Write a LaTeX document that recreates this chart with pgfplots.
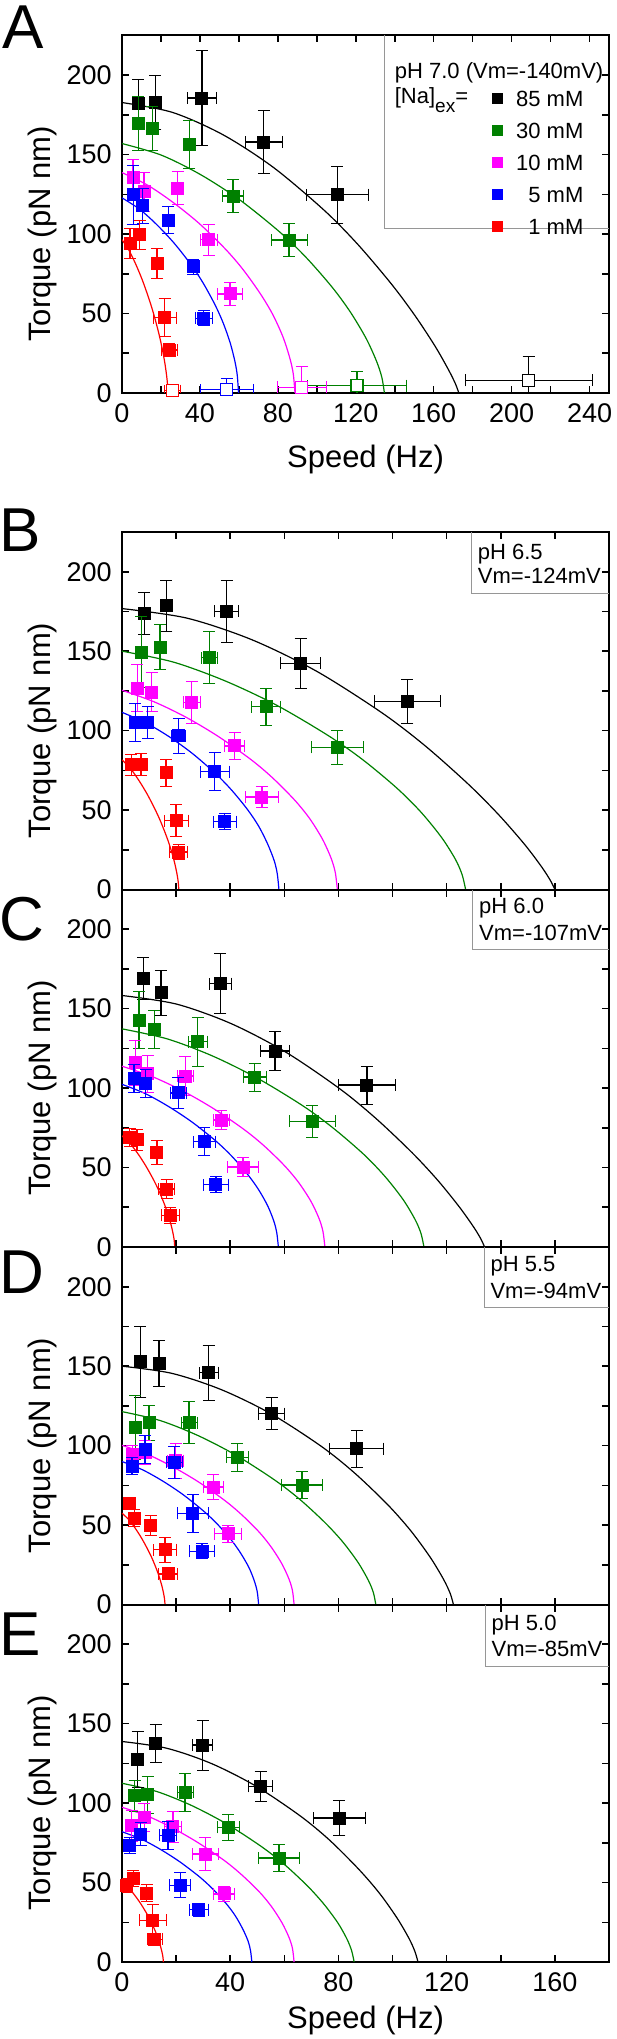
\documentclass[border=0pt]{standalone}
\usepackage{fontspec}
\setmainfont{Liberation Sans}
\usepackage{pgfplots}
\pgfplotsset{compat=1.18}
\definecolor{cgreen}{RGB}{0,128,0}
\definecolor{cmag}{RGB}{255,0,255}
\definecolor{cblue}{RGB}{0,0,255}
\definecolor{cred}{RGB}{255,0,0}
\definecolor{boxgray}{RGB}{150,150,150}
\newcommand{\boxfont}{\fontsize{11}{13}\selectfont}
\pgfplotsset{
 panel/.style={width=243.5pt, height=178.75pt, scale only axis, xmin=0, ymin=0, ymax=225,
   ytick={0,50,...,200}, minor y tick num=1, minor x tick num=1,
   tick align=inside, major tick length=3.5pt, minor tick length=3.5pt,
   axis line style={line width=1pt}, tick style={black, line width=0.8pt},
   tick label style={font=\fontsize{13.5}{15}\selectfont},
   /pgf/number format/assume math mode=true,
   yticklabel style={inner sep=0pt, xshift=-5pt},
   xticklabel style={inner sep=0pt, yshift=-5pt},
   label style={font=\fontsize{15.5}{18}\selectfont},
   ylabel={Torque (pN nm)},
   ylabel style={at={(axis description cs:-0.1478,0.445)}, anchor=base, inner sep=0pt},
   clip mode=individual},
 dat/.style={forget plot, only marks, mark=square*, mark size=3pt, color=#1,
   mark options={solid, fill=#1, draw=#1, line width=0.4pt},
   error bars/.cd, x dir=both, x explicit, y dir=both, y explicit,
   error bar style={line width=0.65pt, color=#1}},
 odat/.style={forget plot, only marks, mark=square*, mark size=3pt, color=#1,
   mark options={solid, fill=white, draw=#1, line width=0.6pt},
   error bars/.cd, x dir=both, x explicit, y dir=both, y explicit,
   error bar style={line width=0.65pt, color=#1}},
 fitc/.style={forget plot, color=#1, line width=0.6pt, smooth, no marks},
}
\newcommand{\pts}[3][dat]{\addplot[#1=#2] table[x error=ex, y error=ey, row sep=\\]{x y ex ey\\#3};}
\newcommand{\fc}[2]{\addplot[fitc=#1] coordinates {#2};}
\newcommand{\lent}[2]{\raisebox{0pt}[10.5pt][#1]{#2}}
\begin{document}
\begin{tikzpicture}
% ---------------- A ----------------
\begin{axis}[panel, at={(0,0)}, anchor=south west, xmax=250, xtick={0,40,...,240},
  xlabel={Speed (Hz)}, xlabel style={at={(axis description cs:0.5,-0.208)}, anchor=base, inner sep=0pt},
  legend style={at={(axis description cs:0.9556,0.870)}, anchor=north east, draw=none, fill=none,
    inner sep=0pt, outer sep=0pt, row sep=0pt, column sep=4.9pt, font=\boxfont,
    cells={inner sep=0pt}},
  legend cell align=right]
\fc{black}{(0,182.8) (25.9,176.6) (51.9,162.5) (77.8,141.9) (103.7,115.1) (121.0,93.6) (138.3,68.6) (150.4,48.7) (160.8,29.3) (167.7,14.4) (171.2,5.7) (172.9,0)}
\fc{cgreen}{(0,157) (20.2,149.7) (40.4,137.4) (60.6,121.4) (80.8,101.5) (94.3,85.6) (107.8,66.7) (117.2,51.0) (125.3,34.4) (130.7,19.9) (133.4,9.8) (134.7,0)}
\fc{cmag}{(0,138.7) (13.3,130.7) (26.6,119.6) (40.0,106.3) (53.3,90.3) (62.2,77.6) (71.0,62.5) (77.3,49.6) (82.6,35.4) (86.1,22.2) (87.9,12.2) (88.8,0)}
\fc{cblue}{(0,122.8) (9.0,115.7) (17.9,105.9) (26.9,94.1) (35.9,80.0) (41.9,68.7) (47.8,55.4) (52.0,43.9) (55.6,31.3) (58.0,19.7) (59.2,10.8) (59.8,0)}
\fc{cred}{(0,96.5) (3.54,89.9) (7.08,81.0) (10.62,70.5) (14.16,58.1) (16.52,48.6) (18.88,37.6) (20.53,28.6) (21.95,19.2) (22.89,11.1) (23.36,5.5) (23.6,0)}
\pts{black}{8.4 182.4 1.5 15\\ 17.1 183.2 1.5 17\\ 41 185.7 7.3 30\\ 72.8 158 9.3 20\\ 110.6 124.8 16 18\\}
\pts[odat]{black}{208.8 8 32.7 15\\}
\pts{cgreen}{8.4 169.7 1.5 17\\ 15.5 166.6 1.5 14\\ 34.6 156.5 3 15\\ 57 124 5.5 10.5\\ 85.8 96.2 9.2 10.5\\}
\pts[odat]{cgreen}{120.6 4.6 25.6 9\\}
\pts{cmag}{5.6 136 1.5 11\\ 11.3 126.6 1.5 12.5\\ 28.6 129 1.5 10.3\\ 44.5 96.4 4.3 9.8\\ 55.5 62.4 6.5 7.1\\}
\pts[odat]{cmag}{92.3 3.6 12.4 13\\}
\pts{cblue}{5.8 124.8 1.5 18.5\\ 10.6 118 1.5 11\\ 23.8 108.9 1.5 8.4\\ 36.7 79.5 3 4.6\\ 42 47.1 4.5 4.8\\}
\pts[odat]{cblue}{53.8 2 13.6 7\\}
\pts{cred}{4.1 94.1 1.5 9.2\\ 9 99.6 1.5 9\\ 18 81.5 1.5 9.4\\ 21.9 47.5 5.8 12\\ 24.2 27 4 4.1\\}
\pts[odat]{cred}{25.9 1.5 4.2 3\\}
\addlegendimage{only marks, mark=square*, mark size=2.5pt, color=black}
\addlegendentry{\lent{7.5pt}{85 mM}}
\addlegendimage{only marks, mark=square*, mark size=2.5pt, color=cgreen}
\addlegendentry{\lent{3pt}{30 mM}}
\addlegendimage{only marks, mark=square*, mark size=2.5pt, color=cmag}
\addlegendentry{\lent{3pt}{10 mM}}
\addlegendimage{only marks, mark=square*, mark size=2.5pt, color=cblue}
\addlegendentry{\lent{3pt}{5 mM}}
\addlegendimage{only marks, mark=square*, mark size=2.5pt, color=cred}
\addlegendentry{\lent{3pt}{1 mM}}
\draw[boxgray, line width=0.5pt] (axis description cs:0.5394,1) |- (axis description cs:1,0.4615);
\node[anchor=base west, inner sep=0pt, font=\boxfont] at (axis description cs:0.5595,0.881) {pH 7.0 (Vm=-140mV)};
\node[anchor=base west, inner sep=0pt, font=\boxfont] at (axis description cs:0.5595,0.811) {[Na]\raisebox{-4.5pt}{\fontsize{9.5}{10}\selectfont ex}=};
\end{axis}
% ---------------- B ----------------
\begin{axis}[panel, at={(0,-248.25pt)}, anchor=south west, xmax=180, xtick={0,40,...,160}, xticklabels={}]
\fc{black}{(0,176.8) (24,170.8) (48,157.2) (72,137.3) (96,111.3) (112,90.5) (128,66.3) (139.2,47.1) (148.8,28.4) (155.2,14.0) (158.4,5.5) (160,0)}
\fc{cgreen}{(0,150) (19.05,143.1) (38.1,131.3) (57.15,116.0) (76.2,96.9) (88.9,81.8) (101.6,63.8) (110.5,48.7) (118.1,32.8) (123.2,19.1) (125.7,9.4) (127,0)}
\fc{cmag}{(0,125.4) (11.9,118.1) (23.9,108.2) (35.8,96.1) (47.8,81.6) (55.7,70.2) (63.7,56.5) (69.3,44.8) (74.0,32.0) (77.2,20.1) (78.8,11.0) (79.6,0)}
\fc{cblue}{(0,111.5) (8.7,105.0) (17.4,96.2) (26.1,85.5) (34.8,72.6) (40.6,62.4) (46.4,50.3) (50.5,39.9) (53.9,28.4) (56.3,17.9) (57.4,9.8) (58,0)}
\fc{cred}{(0,81.6) (3.15,76.1) (6.3,68.5) (9.45,59.6) (12.6,49.1) (14.7,41.1) (16.8,31.8) (18.27,24.2) (19.53,16.2) (20.37,9.4) (20.79,4.6) (21,0)}
\pts{black}{8.3 173.7 1.5 13\\ 16.4 178.5 1.5 16\\ 38.7 175 4.5 19.7\\ 66 142.3 7.3 15.5\\ 105.5 118.5 12.3 13.7\\}
\pts{cgreen}{7.1 149.5 1.5 22.6\\ 14.1 152.6 1.5 14\\ 32.3 145.9 3 16.3\\ 53.2 115 5.3 11.5\\ 79.6 89.5 9.5 10.7\\}
\pts{cmag}{5.7 126.8 1.5 15\\ 11 124.2 1.5 12.2\\ 25.8 117.7 3.2 13\\ 41.6 90.4 3.8 8.4\\ 51.7 58.2 6.2 6.4\\}
\pts{cblue}{4.9 105.2 1.5 12\\ 9.5 105.3 1.5 10\\ 21 96.7 2.6 11\\ 34.3 74.2 5.5 12\\ 38 42.7 4.4 5\\}
\pts{cred}{3.5 78.6 1.5 6.5\\ 7 78.6 1.5 7\\ 16.3 73.6 1.5 8.5\\ 20 43.3 4.5 10\\ 20.9 23.6 3.4 4.5\\}
\draw[boxgray, line width=0.5pt] (axis description cs:0.718,1) |- (axis description cs:1,0.8285);
\node[anchor=base west, inner sep=0pt, font=\boxfont] at (axis description cs:0.730,0.9217) {pH 6.5};
\node[anchor=base west, inner sep=0pt, font=\boxfont] at (axis description cs:0.730,0.8565) {Vm=-124mV};
\end{axis}
% ---------------- C ----------------
\begin{axis}[panel, at={(0,-427pt)}, anchor=south west, xmax=180, xtick={0,40,...,160}, xticklabels={}]
\fc{black}{(0,158.3) (20.1,152.9) (40.2,140.7) (60.3,122.9) (80.4,99.7) (93.8,81.0) (107.2,59.4) (116.6,42.2) (124.6,25.4) (130.0,12.5) (132.7,4.9) (134,0)}
\fc{cgreen}{(0,137.3) (16.7,131.0) (33.5,120.2) (50.2,106.1) (67.0,88.7) (78.1,74.8) (89.3,58.4) (97.1,44.6) (103.8,30.1) (108.3,17.4) (110.5,8.6) (111.6,0)}
\fc{cmag}{(0,113.8) (11.25,107.2) (22.5,98.2) (33.75,87.2) (45,74.1) (52.5,63.7) (60,51.3) (65.25,40.7) (69.75,29.0) (72.75,18.3) (74.25,10.0) (75,0)}
\fc{cblue}{(0,102.4) (8.67,96.5) (17.34,88.3) (26.0,78.5) (34.7,66.7) (40.5,57.3) (46.2,46.2) (50.3,36.6) (53.8,26.1) (56.1,16.4) (57.2,9.0) (57.8,0)}
\fc{cred}{(0,70) (2.93,65.2) (5.85,58.8) (8.78,51.1) (11.7,42.2) (13.65,35.3) (15.6,27.3) (16.97,20.7) (18.14,13.9) (18.92,8.1) (19.31,4.0) (19.5,0)}
\pts{black}{7.9 169 1.5 13.3\\ 14.4 160 1.5 14\\ 36.4 165.8 4.2 18.7\\ 56.6 123.4 5.4 12.2\\ 90.5 101.9 10.5 12\\}
\pts{cgreen}{6.3 142.8 1.5 18\\ 12 137 1.5 12\\ 28 129.2 3.5 15.5\\ 49 107 4.2 8.8\\ 70.4 79.2 8.6 10\\}
\pts{cmag}{4.9 116 1.5 14.2\\ 9.5 109 1.5 11.7\\ 23.4 107.6 3 12.4\\ 36.7 79.9 3 6.1\\ 44.7 50.4 5.7 6.2\\}
\pts{cblue}{4.4 106.2 1.5 8.8\\ 8.8 103.1 1.5 8.8\\ 20.8 97 2.9 10\\ 30.4 66.4 4 8.6\\ 34.7 39.3 4.5 5.1\\}
\pts{cred}{2.8 69 1.5 5.8\\ 5.6 67.6 1.5 6.5\\ 12.9 59.6 1.5 7.5\\ 16.5 36.5 2.9 5.9\\ 17.8 19.9 3.4 5.1\\}
\draw[boxgray, line width=0.5pt] (axis description cs:0.7207,1) |- (axis description cs:1,0.8327);
\node[anchor=base west, inner sep=0pt, font=\boxfont] at (axis description cs:0.7327,0.9334) {pH 6.0};
\node[anchor=base west, inner sep=0pt, font=\boxfont] at (axis description cs:0.7327,0.8568) {Vm=-107mV};
\end{axis}
% ---------------- D ----------------
\begin{axis}[panel, at={(0,-605.75pt)}, anchor=south west, xmax=180, xtick={0,40,...,160}, xticklabels={}]
\fc{black}{(0,150) (18.4,145.5) (36.75,135.2) (55.1,120.0) (73.5,99.75) (85.75,83.1) (98,63.2) (106.6,46.7) (113.9,29.8) (118.8,16.0) (121.3,7.0) (122.5,0)}
\fc{cgreen}{(0,121.4) (14.07,115.8) (28.14,106.3) (42.2,93.9) (56.3,78.5) (65.7,66.2) (75.0,51.6) (81.6,39.4) (87.2,26.6) (91.0,15.4) (92.9,7.6) (93.8,0)}
\fc{cmag}{(0,100.2) (9.54,94.4) (19.08,86.4) (28.6,76.8) (38.2,65.2) (44.5,56.1) (50.9,45.2) (55.3,35.8) (59.1,25.6) (61.7,16.1) (63.0,8.8) (63.6,0)}
\fc{cblue}{(0,90) (7.58,84.8) (15.15,77.6) (22.7,69.0) (30.3,58.6) (35.35,50.4) (40.4,40.6) (43.9,32.2) (47.0,23.0) (49.0,14.4) (50.0,7.9) (50.5,0)}
\fc{cred}{(0,57.5) (2.39,53.6) (4.77,48.3) (7.16,42.0) (9.54,34.6) (11.13,29.0) (12.72,22.4) (13.83,17.0) (14.79,11.4) (15.42,6.6) (15.74,3.2) (15.9,0)}
\pts{black}{6.8 152.7 1.5 22.5\\ 13.7 151.7 1.5 14.3\\ 32 146 3.5 17.3\\ 55.3 120.2 4.8 10\\ 86.8 98.1 10 11.5\\}
\pts{cgreen}{4.9 111.4 1.5 20\\ 10 114.4 1.5 10.8\\ 24.8 114.4 3 13.2\\ 42.6 92.7 4 8.8\\ 66.5 75.2 7.5 8.7\\}
\pts{cmag}{3.8 94.4 1.5 5.5\\ 8.5 95.6 1.5 7.5\\ 19.8 90.6 3 11\\ 33.8 73.9 3.8 8\\ 39.2 44.6 5 5.2\\}
\pts{cblue}{3.7 87.1 1.5 5.5\\ 8.5 97.4 1.5 8.9\\ 19.4 89.6 3 10\\ 26.2 57.3 5.7 11.9\\ 29.6 33.5 4.6 4.7\\}
\pts{cred}{2.6 63.8 1.5 3\\ 4.5 54.5 1.5 5.3\\ 10.6 49.7 1.5 6.3\\ 15.9 34.6 4.2 7.8\\ 17 19.3 3.5 3.8\\}
\draw[boxgray, line width=0.5pt] (axis description cs:0.744,1) |- (axis description cs:1,0.830);
\node[anchor=base west, inner sep=0pt, font=\boxfont] at (axis description cs:0.756,0.931) {pH 5.5};
\node[anchor=base west, inner sep=0pt, font=\boxfont] at (axis description cs:0.756,0.8565) {Vm=-94mV};
\end{axis}
% ---------------- E ----------------
\begin{axis}[panel, at={(0,-784.5pt)}, anchor=south west, xmax=180, xtick={0,40,...,160},
  xlabel={Speed (Hz)}, xlabel style={at={(axis description cs:0.5,-0.1846)}, anchor=base, inner sep=0pt}]
\fc{black}{(0,138.8) (16.4,134.6) (32.8,125.1) (49.2,111.0) (65.6,92.3) (76.6,76.9) (87.5,58.4) (95.2,43.2) (101.7,27.6) (106.1,14.8) (108.3,6.5) (109.4,0)}
\fc{cgreen}{(0,112.5) (12.87,107.3) (25.74,98.5) (38.6,87.0) (51.5,72.7) (60.1,61.3) (68.6,47.8) (74.6,36.5) (79.8,24.6) (83.2,14.3) (84.9,7.0) (85.8,0)}
\fc{cmag}{(0,97.4) (9.54,91.8) (19.08,84.0) (28.6,74.6) (38.2,63.4) (44.5,54.5) (50.9,43.9) (55.3,34.8) (59.1,24.8) (61.7,15.6) (63.0,8.6) (63.6,0)}
\fc{cblue}{(0,82) (7.2,77.3) (14.4,70.7) (21.6,62.8) (28.8,53.4) (33.6,45.9) (38.4,37.0) (41.8,29.3) (44.6,20.9) (46.6,13.2) (47.5,7.2) (48,0)}
\fc{cred}{(0,50.4) (2.3,47.0) (4.59,42.3) (6.89,36.8) (9.18,30.4) (10.71,25.4) (12.24,19.7) (13.31,14.9) (14.23,10.0) (14.84,5.8) (15.15,2.8) (15.3,0)}
\pts{black}{5.8 127.7 1.5 17.6\\ 12.4 137.8 1.5 12\\ 29.8 136.5 3.6 15.7\\ 51.2 110.6 4.5 9.4\\ 80.3 90.7 9.7 10.8\\}
\pts{cgreen}{4.7 104.7 1.5 9.6\\ 9.5 105.3 1.5 11.7\\ 23.3 106.8 3 11.9\\ 39.3 84.8 4 8.2\\ 58 65.5 7.6 8.4\\}
\pts{cmag}{3.6 85.9 1.5 9.7\\ 8.3 91.1 1.5 8.8\\ 18.8 85.2 3 9.6\\ 30.8 67.9 4.9 10.5\\ 37.7 42.9 4 4.6\\}
\pts{cblue}{2.8 73.5 1.5 5.2\\ 6.9 80.4 1.5 7.2\\ 17 79.7 3 9.1\\ 21.5 48.3 3.9 7.8\\ 28.4 33 3.6 4.2\\}
\pts{cred}{1.5 48.1 1.5 4.5\\ 4.2 52.5 1.5 5\\ 9.1 43.5 1.5 5.6\\ 11.4 26.3 4.9 9.9\\ 12.1 14.3 2.8 3.5\\}
\draw[boxgray, line width=0.5pt] (axis description cs:0.7464,1) |- (axis description cs:1,0.828);
\node[anchor=base west, inner sep=0pt, font=\boxfont] at (axis description cs:0.7584,0.9287) {pH 5.0};
\node[anchor=base west, inner sep=0pt, font=\boxfont] at (axis description cs:0.7584,0.854) {Vm=-85mV};
\end{axis}
% panel letters
\node[anchor=base west, inner sep=0pt, font=\fontsize{31}{32}\selectfont] at (-60pt,172pt) {A};
\node[anchor=base west, inner sep=0pt, font=\fontsize{31}{32}\selectfont] at (-61.5pt,-79pt) {B};
\node[anchor=base west, inner sep=0pt, font=\fontsize{31}{32}\selectfont] at (-61.5pt,-273.5pt) {C};
\node[anchor=base west, inner sep=0pt, font=\fontsize{31}{32}\selectfont] at (-61.5pt,-450pt) {D};
\node[anchor=base west, inner sep=0pt, font=\fontsize{31}{32}\selectfont] at (-61.5pt,-631pt) {E};
\pgfresetboundingbox
\path[use as bounding box] (-61pt,-823pt) rectangle (247pt,196.5pt);
\end{tikzpicture}
\end{document}
